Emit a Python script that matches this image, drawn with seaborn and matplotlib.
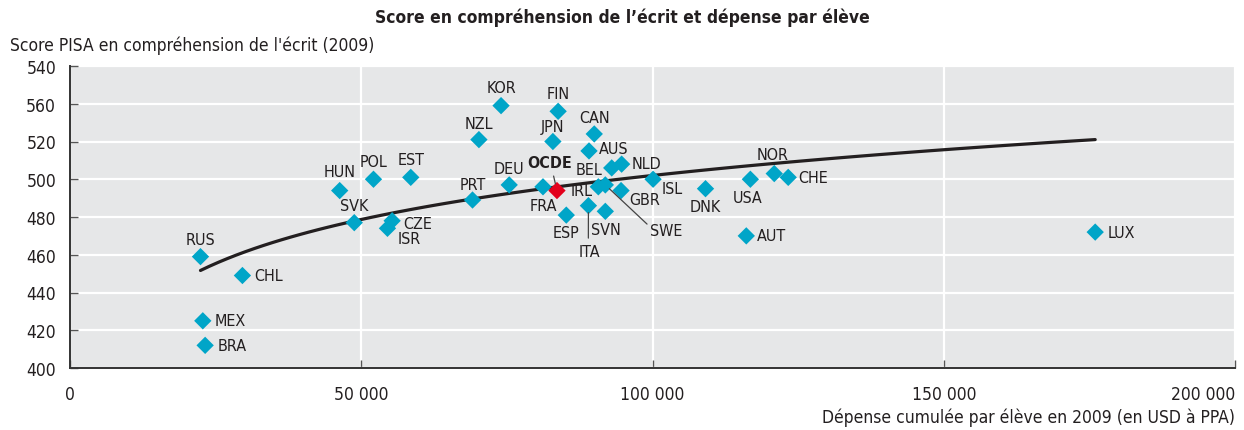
import matplotlib
matplotlib.use("Agg")
import matplotlib.pyplot as plt
from matplotlib import font_manager
import seaborn as sns
import pandas as pd
import numpy as np

# ---------------- data ----------------
countries = ["RUS", "CHL", "MEX", "BRA", "HUN", "POL", "EST", "SVK", "CZE", "ISR",
             "KOR", "FIN", "NZL", "JPN", "CAN", "AUS", "NLD", "BEL", "DEU", "PRT",
             "FRA", "IRL", "SWE", "GBR", "ITA", "ESP", "SVN", "ISL", "DNK", "USA",
             "NOR", "CHE", "AUT", "LUX"]
spending = [22400, 29600, 22800, 23200, 46300, 52100, 58500, 48800, 55300, 54500,
            74000, 83800, 70200, 82900, 90000, 89100, 94700, 93000, 75400, 69100,
            81200, 90700, 91900, 94600, 89000, 85200, 91900, 100100, 109100, 116800,
            120900, 123300, 116100, 176000]
scores = [459, 449, 425, 412, 494, 500, 501, 477, 478, 474,
          539, 536, 521, 520, 524, 515, 508, 506, 497, 489,
          496, 496, 497, 494, 486, 481, 483, 500, 495, 500,
          503, 501, 470, 472]
oecd_label = "OCDE"
oecd_spending = [83600]
oecd_score = [494]

x_ticks = [0, 50000, 100000, 150000, 200000]
x_ticklabels = ["0", "50 000", "100 000", "150 000", "200 000"]
y_ticks = [400, 420, 440, 460, 480, 500, 520, 540, 560]
y_ticklabels = ["400", "420", "440", "460", "480", "500", "520", "560", "540"]

title = "Score en compréhension de l\u2019écrit et dépense par élève"
ylabel = "Score PISA en compréhension de l'écrit (2009)"
xlabel = "Dépense cumulée par élève en 2009 (en USD à PPA)"

df = pd.DataFrame({"country": countries, "spend": spending, "score": scores})

# ---------------- style ----------------
sns.set_style("ticks")
def has_font(name):
    try:
        font_manager.findfont(name, fallback_to_default=False)
        return True
    except Exception:
        return False

main_font = "Liberation Sans Narrow" if has_font("Liberation Sans Narrow") else "DejaVu Sans"
plt.rcParams["font.family"] = [main_font, "DejaVu Sans"]
if main_font == "DejaVu Sans":
    plt.rcParams["font.stretch"] = "condensed"

BLUE = "#00a5c8"
RED = "#e3001b"
BG = "#e6e7e8"
TXT = "#231f20"

fig = plt.figure(figsize=(12.44, 4.31), dpi=100)
ax = fig.add_axes([70 / 1244, 1 - 369 / 431, (1235 - 70) / 1244, (369 - 67) / 431])
ax.set_facecolor(BG)

# log trend across countries
sns.regplot(data=df, x="spend", y="score", logx=True, scatter=False, ci=None,
            ax=ax, line_kws=dict(color=TXT, lw=2.3, zorder=2))

sns.scatterplot(data=df, x="spend", y="score", marker="D", s=78, color=BLUE,
                edgecolor="none", ax=ax, zorder=3)
sns.scatterplot(x=oecd_spending, y=oecd_score, marker="D", s=78, color=RED,
                edgecolor="none", ax=ax, zorder=4)

ax.set_xlim(0, 200000)
ax.set_ylim(400, 560)
ax.set_xticks(x_ticks)
ax.set_xticklabels(x_ticklabels)
ax.set_yticks(y_ticks)
ax.set_yticklabels(y_ticklabels)
ax.get_xticklabels()[-1].set_horizontalalignment("right")
ax.grid(True, color="white", lw=1.6, zorder=0)
ax.set_axisbelow(True)
for s in ["top", "right"]:
    ax.spines[s].set_visible(False)
for s in ["left", "bottom"]:
    ax.spines[s].set_color("#333333")
    ax.spines[s].set_linewidth(1.4)
ax.tick_params(axis="both", direction="in", length=5.5, width=1, color="#555555",
               labelsize=12.5, labelcolor=TXT)
ax.tick_params(axis="y", pad=10)
ax.tick_params(axis="x", pad=12)
ax.set_xlabel("")
ax.set_ylabel("")

# ---------------- labels (offsets in pixels) ----------------
label_pos = {
    "RUS": (0, 17, "center"), "CHL": (12, 0, "left"), "MEX": (12, 0, "left"),
    "BRA": (12, 0, "left"), "HUN": (0, 19, "center"), "POL": (0, 18, "center"),
    "EST": (0, 18, "center"), "SVK": (0, 17, "center"), "CZE": (11, -3, "left"),
    "ISR": (10, -10, "left"), "KOR": (0, 18, "center"), "FIN": (0, 18, "center"),
    "NZL": (0, 16, "center"), "JPN": (0, 15, "center"), "CAN": (0, 16, "center"),
    "AUS": (10, 2, "left"), "NLD": (10, 1, "left"), "BEL": (-9, -2, "right"),
    "DEU": (0, 16, "center"), "PRT": (0, 16, "center"), "FRA": (0, -19, "center"),
    "IRL": (-6, -4, "right"), "GBR": (8, -9, "left"), "ESP": (0, -17, "center"),
    "SVN": (1, -18, "center"), "ISL": (9, -9, "left"), "DNK": (0, -18, "center"),
    "USA": (-3, -18, "center"), "NOR": (-2, 19, "center"), "CHE": (10, 0, "left"),
    "AUT": (11, 0, "left"), "LUX": (12, 0, "left"),
}
lab_fs = 11.5
for c, xv, yv in zip(countries, spending, scores):
    if c in label_pos:
        dx, dy, ha = label_pos[c]
        ax.annotate(c, (xv, yv), xytext=(dx, dy), textcoords="offset pixels",
                    ha=ha, va="center", fontsize=lab_fs, color=TXT, zorder=5)

leader = dict(arrowstyle="-", color="#444444", lw=0.9)
ci = countries.index("ITA")
ax.annotate("ITA", (spending[ci], scores[ci]), xytext=(1, -46), textcoords="offset pixels",
            ha="center", va="center", fontsize=lab_fs, color=TXT, zorder=5,
            arrowprops=dict(**leader, relpos=(0.45, 1.0), shrinkA=2, shrinkB=5))
ci = countries.index("SWE")
ax.annotate("SWE", (spending[ci], scores[ci]), xytext=(45, -46), textcoords="offset pixels",
            ha="left", va="center", fontsize=lab_fs, color=TXT, zorder=5,
            arrowprops=dict(**leader, relpos=(0.0, 0.75), shrinkA=0, shrinkB=4))
ax.annotate(oecd_label, (oecd_spending[0], oecd_score[0]), xytext=(-7, 28),
            textcoords="offset pixels", ha="center", va="center", fontsize=lab_fs,
            fontweight="bold", color=TXT, zorder=5,
            arrowprops=dict(**leader, relpos=(0.55, 0.0), shrinkA=2, shrinkB=5))

# ---------------- titles ----------------
fig.text(622 / 1244, 1 - 18 / 431, title, ha="center", va="center",
         fontsize=12.5, fontweight="bold", color=TXT)
fig.text(10 / 1244, 1 - 46 / 431, ylabel, ha="left", va="center",
         fontsize=12.5, color=TXT)
fig.text(1235 / 1244, 1 - 418 / 431, xlabel, ha="right", va="center",
         fontsize=12.5, color=TXT)

fig.savefig("out.png", dpi=100, facecolor="white")
